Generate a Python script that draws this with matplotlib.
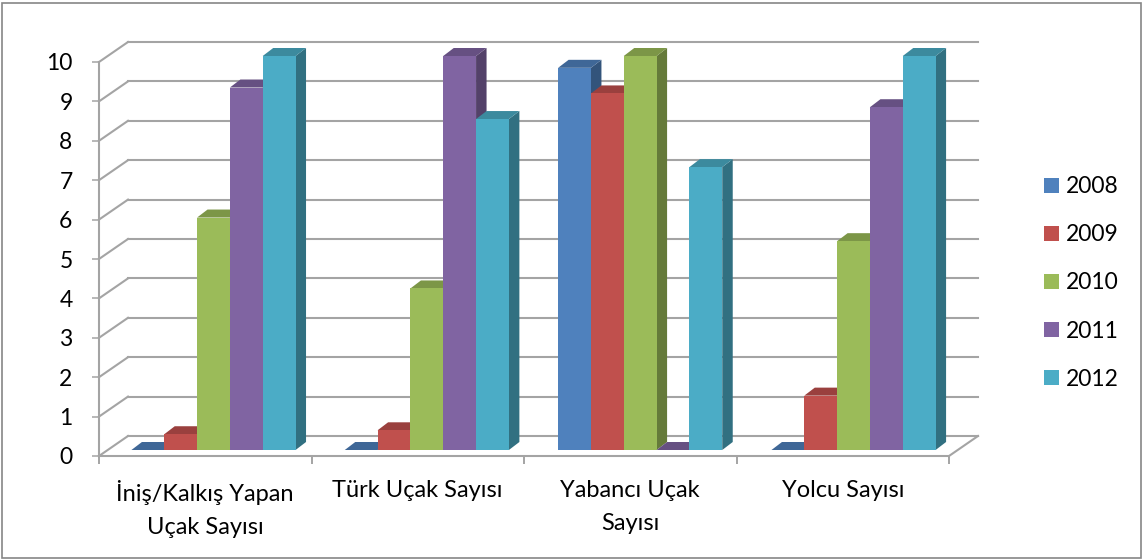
import matplotlib
matplotlib.use('Agg')
import matplotlib.pyplot as plt
from matplotlib.patches import Patch, Rectangle
from matplotlib.transforms import Affine2D
from matplotlib.colors import to_rgb

plt.rcParams['font.family'] = ['Lato', 'DejaVu Sans']

# Valori
categories = ['İniş/Kalkış Yapan\nUçak Sayısı', 'Türk Uçak Sayısı', 'Yabancı Uçak\nSayısı', 'Yolcu Sayısı']
years = ['2008', '2009', '2010', '2011', '2012']
values_2008 = [0, 0, 9.7, 0]
values_2009 = [0.4, 0.5, 9.05, 1.38]
values_2010 = [5.9, 4.1, 10, 5.3]
values_2011 = [9.2, 10, 0, 8.7]
values_2012 = [10, 8.4, 7.18, 10]
y_ticks = [0, 1, 2, 3, 4, 5, 6, 7, 8, 9, 10]

series = [values_2008, values_2009, values_2010, values_2011, values_2012]
colors = ['#4F81BD', '#C0504D', '#9BBB59', '#8064A2', '#4BACC6']
grid_color = '#a4a4a4'

W, H = 1143, 560
fig = plt.figure(figsize=(W / 100, H / 100), dpi=100)
ax = fig.add_axes([99 / W, (H - 456) / H, 850 / W, 394 / H])
ax.set_xlim(0, 4)
ax.set_ylim(0, 10)
ax.patch.set_visible(False)

# Spostamenti in pixel per l'effetto 3D
wall = Affine2D().translate(29, 20)
bar_base = Affine2D().translate(-99, 0).scale(1.004, 1).translate(99 + 7.8, 6)
depth_x, depth_y = 10.5, 8


def darker(color, factor):
    return tuple(c * factor for c in to_rgb(color))


# Griglia sul fondo e diagonali sul lato sinistro
for tick in y_ticks:
    ax.plot([0, 4], [tick, tick], color=grid_color, lw=1.5, transform=ax.transData + wall, clip_on=False, zorder=1)
    x0, y0 = ax.transData.transform((0, tick))
    ax.plot([x0, x0 + 29], [y0, y0 + 20], color=grid_color, lw=1.5, transform=None, clip_on=False, zorder=1)

# Lato destro del pavimento
x0, y0 = ax.transData.transform((4, 0))
ax.plot([x0, x0 + 29], [y0, y0 + 20], color=grid_color, lw=1.5, transform=None, clip_on=False, zorder=1)

# Barre
bar_w = 1 / 6.5
gap = bar_w * 0.75
to_pixels = ax.transData + bar_base
z = 3
for i in range(len(categories)):
    for j, vals in enumerate(series):
        left = i + gap + j * bar_w
        right = left + bar_w
        v = vals[i]
        (xl, yb), (xr, yt) = to_pixels.transform([(left, 0), (right, v)])
        col = colors[j]
        # lato
        ax.fill([xr, xr + depth_x, xr + depth_x, xr], [yb, yb + depth_y, yt + depth_y, yt],
                color=darker(col, 0.65), lw=0, transform=None, clip_on=False, zorder=z)
        # faccia superiore
        ax.fill([xl, xl + depth_x, xr + depth_x, xr], [yt, yt + depth_y, yt + depth_y, yt],
                color=darker(col, 0.8), lw=0, transform=None, clip_on=False, zorder=z)
        # faccia frontale
        ax.fill([left, right, right, left], [0, 0, v, v], color=col, lw=0,
                transform=to_pixels, clip_on=False, zorder=z)
        z += 1

for side in ['top', 'right']:
    ax.spines[side].set_visible(False)
for side in ['left', 'bottom']:
    ax.spines[side].set_color(grid_color)
    ax.spines[side].set_linewidth(1.5)

ax.set_yticks(y_ticks)
ax.tick_params(axis='y', length=5, width=1.1, color=grid_color, labelsize=16.5, pad=14)
ax.set_xticks([0, 1, 2, 3, 4])
ax.set_xticklabels([])
ax.tick_params(axis='x', which='major', length=5.5, width=1.1, color='#8c8c8c')
ax.set_xticks([0.5, 1.5, 2.5, 3.5], minor=True)
ax.set_xticklabels(categories, minor=True, fontsize=17, linespacing=1.75)
ax.tick_params(axis='x', which='minor', length=0, pad=17)

handles = [Patch(facecolor=c, edgecolor='none') for c in colors]
fig.legend(handles, years, loc='center left', bbox_to_anchor=(1044 / W, (H - 283) / H),
           frameon=False, fontsize=16.5, handlelength=0.66, handleheight=0.66,
           handletextpad=0.28, labelspacing=1.18, borderpad=0, borderaxespad=0)

# Cornice esterna
fig.add_artist(Rectangle((2 / W, 2 / H), (W - 4) / W, (H - 5) / H, transform=fig.transFigure,
                         fill=False, edgecolor='#868686', lw=1.2))

fig.savefig('out.png', dpi=100)
